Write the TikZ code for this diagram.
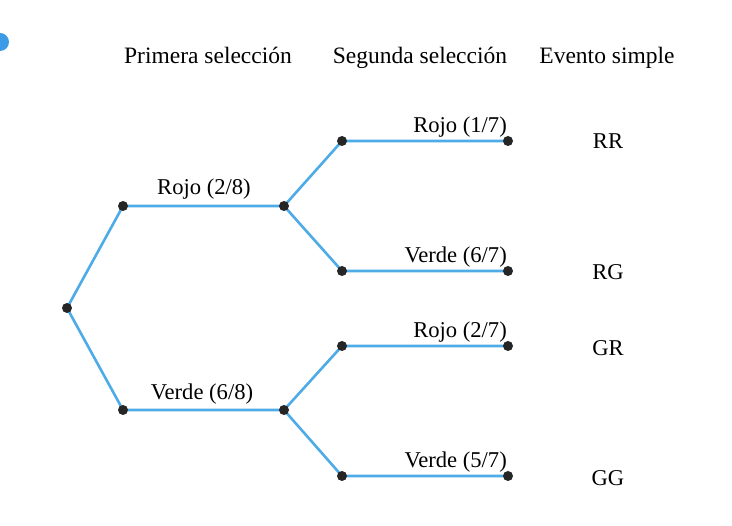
\documentclass[tikz,border=0pt]{standalone}
\usepackage{fontspec}
\setmainfont{Liberation Serif}
\definecolor{branch}{RGB}{77,171,231}
\definecolor{bullet}{RGB}{60,155,230}
\begin{document}
\begin{tikzpicture}[x=1pt,y=-1pt,
  pt/.style={circle,fill=black!85,inner sep=0pt,minimum size=10pt},
  br/.style={draw=branch,line width=2.6pt},
  lab/.style={font=\fontsize{22.6}{26}\selectfont,inner sep=0pt,anchor=base},
  hdr/.style={font=\fontsize{23.5}{27}\selectfont,inner sep=0pt,anchor=base}]
\useasboundingbox[fill=white] (0,0) rectangle (732,526);
\fill[bullet] (0,42) circle (9);
% headers
\node[hdr] (h1) at (208,64) {Primera selección};
\node[hdr] (h2) at (420,64) {Segunda selección};
\node[hdr] (h3) at (607,64) {Evento simple};
% points
\coordinate (r) at (67,308);
\coordinate (a) at (123,206);
\coordinate (ae) at (284,206);
\coordinate (b) at (123,410);
\coordinate (be) at (284,410);
\coordinate (aa) at (342,141);
\coordinate (aae) at (508,141);
\coordinate (ab) at (342,271);
\coordinate (abe) at (508,271);
\coordinate (ba) at (342,346);
\coordinate (bae) at (508,346);
\coordinate (bb) at (342,476);
\coordinate (bbe) at (508,476);
% branches
\draw[br] (r) -- (a) -- (ae);
\draw[br] (r) -- (b) -- (be);
\draw[br] (ae) -- (aa) -- (aae);
\draw[br] (ae) -- (ab) -- (abe);
\draw[br] (be) -- (ba) -- (bae);
\draw[br] (be) -- (bb) -- (bbe);
\foreach \n in {r,a,ae,b,be,aa,aae,ab,abe,ba,bae,bb,bbe} \node[pt] at (\n) {};
% labels
\node[lab] (l1) at (204,195) {Rojo (2/8)};
\node[lab] (l2) at (202,400) {Verde (6/8)};
\node[lab,anchor=base east] (l3) at (507,133) {Rojo (1/7)};
\node[lab,anchor=base east] (l4) at (507,263) {Verde (6/7)};
\node[lab,anchor=base east] (l5) at (507,338) {Rojo (2/7)};
\node[lab,anchor=base east] (l6) at (507,468) {Verde (5/7)};
% events
\node[lab] (e1) at (608,149) {RR};
\node[lab] (e2) at (608,280) {RG};
\node[lab] (e3) at (608,356) {GR};
\node[lab] (e4) at (608,486) {GG};
\end{tikzpicture}
\end{document}
